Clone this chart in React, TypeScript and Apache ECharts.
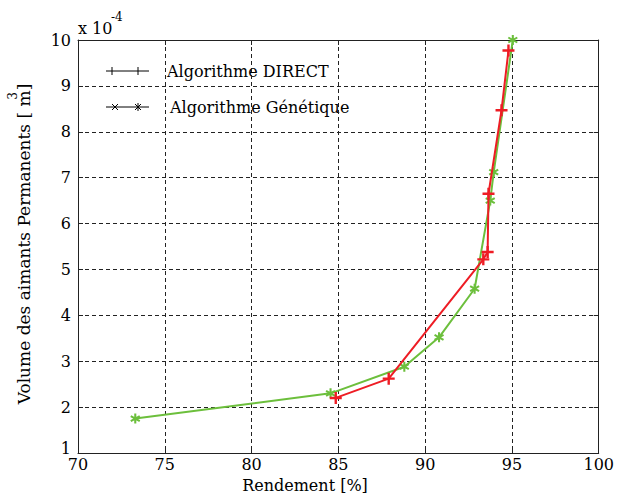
import React, { useEffect, useRef } from "react";
import * as echarts from "echarts";

const directX = [84.85, 87.9, 93.35, 93.6, 93.65, 94.4, 94.8];
const directY = [2.2, 2.62, 5.22, 5.38, 6.65, 8.47, 9.77];
const genetiqueX = [73.3, 84.55, 88.8, 90.8, 92.85, 93.75, 93.95, 95.05];
const genetiqueY = [1.75, 2.3, 2.88, 3.52, 4.58, 6.5, 7.12, 10.0];
const seriesNames = ["Algorithme DIRECT", "Algorithme Génétique"];
const xTitle = "Rendement [%]";
const yTitle = "Volume des aimants Permanents [ m]";

const FONT = "DejaVu Serif";
const RED = "#ee1c24";
const GREEN = "#6cbf3c";

const plusPath = "path://M4,0H6V4H10V6H6V10H4V6H0V4H4Z";
const starPath =
  "path://M4,0H6V10H4Z M0.17,3.37L1.17,1.63L9.83,6.63L8.83,8.37Z M1.17,8.37L0.17,6.63L8.83,1.63L9.83,3.37Z";

export default function App() {
  const ref = useRef<HTMLDivElement>(null);
  useEffect(() => {
    if (!ref.current) return;
    const chart = echarts.init(ref.current, null, { renderer: "svg" });
    const axisLine = { show: true, lineStyle: { color: "#222", width: 1 } };
    const tick = { show: true, inside: true, length: 5, lineStyle: { color: "#222" } };
    const split = { show: true, lineStyle: { color: "#222", type: [4, 3] as any, width: 1 } };
    const label = { color: "#000", fontFamily: FONT, fontSize: 16 };
    const txt = (text: string, x: number, y: number, size: number, extra: any = {}) => ({
      type: "text",
      x,
      y,
      ...extra,
      style: {
        text,
        fill: "#000",
        font: `${size}px "${FONT}"`,
        textAlign: extra.align || "left",
        align: extra.align || "left",
        textVerticalAlign: "middle",
        verticalAlign: "middle",
      },
    });
    const ln = (x1: number, y1: number, x2: number, y2: number) => ({
      type: "line",
      shape: { x1, y1, x2, y2 },
      style: { stroke: "#000", lineWidth: 1 },
    });
    chart.setOption({
      animation: false,
      backgroundColor: "#fff",
      grid: { left: 78, right: 14, top: 40, bottom: 40, containLabel: false },
      xAxis: [
        {
          type: "value",
          min: 70,
          max: 100,
          interval: 5,
          position: "bottom",
          axisLine,
          axisTick: tick,
          splitLine: split,
          axisLabel: { ...label, margin: 4, lineHeight: 14 },
        },
        {
          type: "value",
          min: 70,
          max: 100,
          interval: 5,
          position: "top",
          axisLine,
          axisTick: tick,
          splitLine: { show: false },
          axisLabel: { show: false },
        },
      ],
      yAxis: [
        {
          type: "value",
          min: 1,
          max: 10,
          interval: 1,
          position: "left",
          axisLine,
          axisTick: tick,
          splitLine: split,
          axisLabel: {
            ...label,
            margin: 7,
            lineHeight: 14,
            formatter: (v: number) => (v === 1 ? "{lo|1}" : String(v)),
            rich: { lo: { fontFamily: FONT, fontSize: 16, color: "#000", padding: [0, 0, 10, 0] } },
          },
        },
        {
          type: "value",
          min: 1,
          max: 10,
          interval: 1,
          position: "right",
          axisLine,
          axisTick: tick,
          splitLine: { show: false },
          axisLabel: { show: false },
        },
      ],
      series: [
        {
          name: seriesNames[1],
          type: "line",
          data: genetiqueX.map((x, i) => [x, genetiqueY[i]]),
          lineStyle: { color: GREEN, width: 2 },
          itemStyle: { color: GREEN },
          symbol: starPath,
          symbolSize: 10,
          showAllSymbol: true,
          z: 3,
        },
        {
          name: seriesNames[0],
          type: "line",
          data: directX.map((x, i) => [x, directY[i]]),
          lineStyle: { color: RED, width: 2 },
          itemStyle: { color: RED },
          symbol: plusPath,
          symbolSize: 12,
          showAllSymbol: true,
          z: 4,
        },
      ],
      graphic: [
        txt("x 10", 78, 28, 16),
        txt("-4", 111, 17, 12),
        txt(xTitle, 305, 485, 16, { align: "center" }),
        {
          ...txt(yTitle, 24, 244, 17, { align: "center" }),
          rotation: Math.PI / 2,
        },
        { ...txt("3", 13, 96, 12, { align: "center" }), rotation: Math.PI / 2 },
        // legend row 1
        ln(106, 71, 149, 71),
        ln(112, 67, 112, 75),
        ln(138, 67, 138, 75),
        txt(seriesNames[0], 167, 71, 16),
        // legend row 2
        ln(106, 107, 149, 107),
        ln(112, 104, 118, 110),
        ln(112, 110, 118, 104),
        ln(135, 104, 141, 110),
        ln(135, 110, 141, 104),
        ln(138, 103, 138, 111),
        txt(seriesNames[1], 170, 107, 16),
      ],
    });
    return () => chart.dispose();
  }, []);
  return <div ref={ref} style={{ width: 617, height: 493, position: "absolute", left: 0, top: 0 }} />;
}
